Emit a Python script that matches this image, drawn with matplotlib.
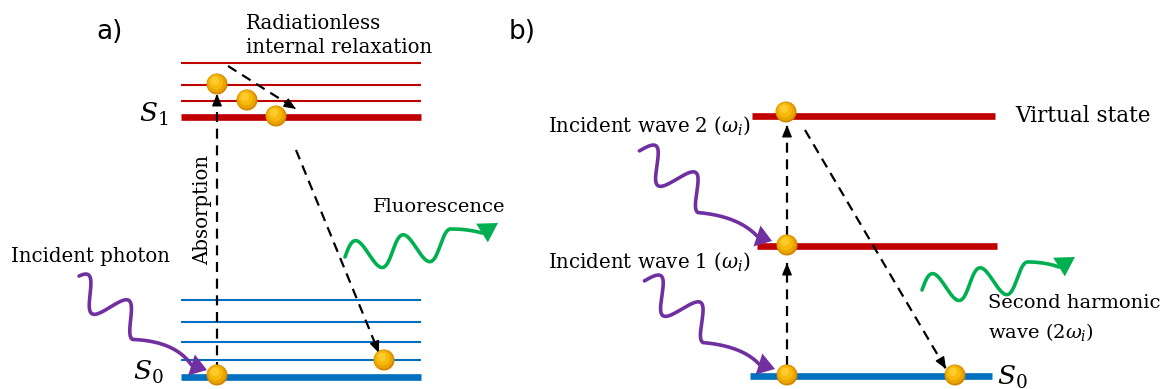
import numpy as np
import matplotlib
matplotlib.use("Agg")
import matplotlib.pyplot as plt
from matplotlib.patches import Circle, Polygon

W, H = 1165, 389
RED, BLUE, GREEN, PURPLE = "#C00000", "#0070C0", "#00B050", "#7030A0"

# panel a: level heights (px, from top)
A_RED_THIN = [63, 85, 101]
A_S1 = 117
A_BLUE_THIN = [300, 322, 342, 360]
A_S0 = 377
A_LEVEL_X = (181, 421)
A_BALLS = [(217, 84), (247, 100), (276, 116), (217, 375), (384, 360)]

# panel b
B_VIRTUAL = (752, 995, 116)
B_MIDDLE = (757, 997, 246)
B_GROUND = (750, 992, 376)
B_BALLS = [(786, 112), (787, 245), (787, 375), (955, 375)]

# dashed transitions: (start, end)
DASHED = [
    ((228, 66), (296, 109)),
    ((217, 372), (217, 94)),
    ((296, 150), (379, 353)),
    ((787, 366), (787, 263)),
    ((787, 236), (787, 125)),
    ((805, 130), (946, 369)),
]

# wavy arrows: start, angle, wavelength, amp, phase, wave length, ctrl, head base, tip
WAVES = [
    (PURPLE, (74, 284), 32.4, 48, 15.5, 0.65, 79, (175, 341), (191.5, 365), (207, 370)),
    (PURPLE, (638, 153), 33.9, 48, 16, 0.16, 83, (738, 216), (757, 236), (772, 241)),
    (PURPLE, (643, 283), 33.9, 48, 16, 0.16, 83, (742, 346), (759, 364), (775, 369)),
    (GREEN, (345, 257), -7.0, 48, 15, 0.0, 108, (468, 229), (482, 233), (498, 223)),
    (GREEN, (922, 290), -7.0, 48, 15, 0.0, 108, (1045, 262), (1059, 267), (1075, 257)),
]

plt.rcParams["font.family"] = "DejaVu Serif"
plt.rcParams["mathtext.fontset"] = "dejavuserif"

fig = plt.figure(figsize=(W / 100, H / 100), dpi=100)
ax = fig.add_axes([0, 0, 1, 1])
ax.set_xlim(0, W)
ax.set_ylim(H, 0)
ax.axis("off")


def level(x0, x1, y, color, lw):
    ax.plot([x0, x1], [y, y], color=color, lw=lw, solid_capstyle="butt", zorder=1)


def ball(x, y, r=10.5):
    layers = [(0, 0, 1.0, "#D08600"), (-0.5, -0.7, 0.9, "#EBA500"),
              (-1.2, -1.8, 0.68, "#F7BA0A"), (-2.0, -3.2, 0.4, "#FDCB2E")]
    for dx, dy, f, c in layers:
        ax.add_patch(Circle((x + dx, y + dy), r * f, color=c, lw=0, zorder=5))


def dashed_arrow(p0, p1):
    p0, p1 = np.array(p0, float), np.array(p1, float)
    ax.plot([p0[0], p1[0]], [p0[1], p1[1]], color="k", lw=1.6, ls=(0, (4.5, 3)), zorder=3)
    ax.annotate("", xy=p1, xytext=p1 - 0.02 * (p1 - p0),
                arrowprops=dict(arrowstyle="-|>,head_length=0.6,head_width=0.25",
                                color="k", lw=1, shrinkA=0, shrinkB=0, mutation_scale=12),
                zorder=3)


def wavy_arrow(color, start, angle, lam, amp, phase, wave_len, ctrl, base, tip, head_w=22):
    a = np.deg2rad(angle)
    u = np.array([np.cos(a), np.sin(a)])
    n = np.array([u[1], -u[0]])
    s = np.linspace(0, wave_len, 300)
    pts = np.array(start, float) + s[:, None] * u + (amp * np.sin(2 * np.pi * s / lam + phase))[:, None] * n
    t = np.linspace(0, 1, 40)[:, None]
    p0, p1, p2 = pts[-1], np.array(ctrl, float), np.array(base, float)
    bez = (1 - t) ** 2 * p0 + 2 * (1 - t) * t * p1 + t ** 2 * p2
    pts = np.vstack([pts, bez])
    ax.plot(pts[:, 0], pts[:, 1], color=color, lw=2.6, solid_capstyle="round",
            solid_joinstyle="round", zorder=4)
    d = np.array(tip, float) - p2
    d = d / np.hypot(*d)
    perp = np.array([-d[1], d[0]])
    tri = [tip, p2 + perp * head_w / 2, p2 - perp * head_w / 2]
    ax.add_patch(Polygon(tri, closed=True, color=color, lw=0, zorder=4))


# panel a levels
for y in A_RED_THIN:
    level(*A_LEVEL_X, y, RED, 1.5)
level(*A_LEVEL_X, A_S1, RED, 4.8)
for y in A_BLUE_THIN:
    level(*A_LEVEL_X, y, BLUE, 1.5)
level(*A_LEVEL_X, A_S0, BLUE, 4.8)

# panel b levels
level(B_VIRTUAL[0], B_VIRTUAL[1], B_VIRTUAL[2], RED, 4.8)
level(B_MIDDLE[0], B_MIDDLE[1], B_MIDDLE[2], RED, 4.8)
level(B_GROUND[0], B_GROUND[1], B_GROUND[2], BLUE, 4.8)

for p0, p1 in DASHED:
    dashed_arrow(p0, p1)

for w in WAVES:
    wavy_arrow(*w)

for x, y in A_BALLS + B_BALLS:
    ball(x, y)

# labels
ax.text(96, 39, "a)", family="DejaVu Sans", fontsize=19, va="baseline")
ax.text(509, 39, "b)", family="DejaVu Sans", fontsize=19, va="baseline")
ax.text(246, 29, "Radiationless", fontsize=14.2, va="baseline")
ax.text(246, 53, "internal relaxation", fontsize=14.2, va="baseline")
ax.text(139, 122, "$S_1$", fontsize=19, va="baseline")
ax.text(133, 380, "$S_0$", fontsize=19, va="baseline")
ax.text(203, 210, "Absorption", fontsize=14.2, rotation=90, ha="center", va="center")
ax.text(373, 212, "Fluorescence", fontsize=14, va="baseline")
ax.text(11, 262, "Incident photon", fontsize=14.2, va="baseline")

ax.text(1015, 122, "Virtual state", fontsize=15.5, va="baseline")
ax.text(548, 132, r"Incident wave 2 ($\omega_i$)", fontsize=14.2, va="baseline")
ax.text(548, 268, r"Incident wave 1 ($\omega_i$)", fontsize=14.2, va="baseline")
ax.text(988, 308, "Second harmonic", fontsize=14, va="baseline")
ax.text(988, 338, r"wave ($2\omega_i$)", fontsize=14, va="baseline")
ax.text(997, 385, "$S_0$", fontsize=19, va="baseline")

fig.savefig("out.png", dpi=100)
